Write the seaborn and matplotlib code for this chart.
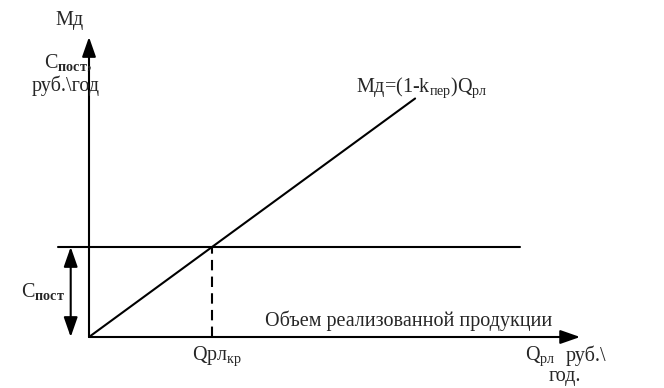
import matplotlib
matplotlib.use("Agg")
import matplotlib.pyplot as plt
import seaborn as sns

# --- data (abstract units) ---
c_post = 3.0              # fixed costs level
q_kr = 4.1                # break-even volume
md_q = [0.0, 4.1, 10.87]  # volume along the marginal income line
md_v = [0.0, 3.0, 7.95]   # marginal income values
cpost_x = [-1.03, 14.37]  # extent of the fixed-cost line
cpost_y = [3.0, 3.0]
x_axis_max = 16.37
y_axis_max = 10.0

sns.set_theme(style="white")
plt.rcParams['font.family'] = ['Liberation Serif', 'DejaVu Serif']
plt.rcParams['mathtext.fontset'] = 'custom'
plt.rcParams['mathtext.rm'] = 'Liberation Serif'
plt.rcParams['mathtext.it'] = 'Liberation Serif:italic'
plt.rcParams['mathtext.bf'] = 'Liberation Serif:bold'

fig = plt.figure(figsize=(6.64, 3.88), dpi=100)
ax = fig.add_axes([0, 0, 1, 1])
ax.set_xlim(-89/30, 575/30)
ax.set_ylim(-51/30, 337/30)
ax.axis('off')

lw = 1.5
col = 'black'
# marginal income line
sns.lineplot(x=md_q, y=md_v, ax=ax, color=col, lw=lw, estimator=None)
# fixed cost line
sns.lineplot(x=cpost_x, y=cpost_y, ax=ax, color=col, lw=lw, estimator=None)
# dashed vertical at break-even
ax.plot([q_kr, q_kr], [0, c_post], color=col, lw=lw, ls=(0, (5, 3)))

# axes with arrows
arrow = dict(arrowstyle='-|>,head_length=1.0,head_width=0.35', color=col, lw=lw,
             shrinkA=0, shrinkB=0)
ax.annotate('', xy=(0, y_axis_max), xytext=(0, 0), arrowprops=arrow)
ax.annotate('', xy=(x_axis_max, 0), xytext=(0, 0), arrowprops=arrow)
# double-headed arrow for C_post
darrow = dict(arrowstyle='<|-|>,head_length=1.0,head_width=0.35', color=col, lw=lw,
              shrinkA=0, shrinkB=0)
ax.annotate('', xy=(-0.61, c_post), xytext=(-0.61, 0), arrowprops=darrow)

fs = 14.5
def px(x, y):
    return ((x - 89) / 30, (337 - y) / 30)

ax.text(*px(69, 20), 'Мд', fontsize=fs, ha='center', va='center')
ax.text(*px(68, 63), r'С$_{\mathbf{пост}}$,', fontsize=fs, ha='center', va='center')
ax.text(*px(66, 86), 'руб.\\год', fontsize=fs, ha='center', va='center')
ax.text(*px(356, 88), r'Мд=(1-k$_{\mathrm{пер}}$)Q$_{\mathrm{рл}}$', fontsize=fs, ha='left', va='center')
ax.text(*px(43, 292), r'С$_{\mathbf{пост}}$', fontsize=fs, ha='center', va='center')
ax.text(*px(217, 356), r'Qрл$_{\mathrm{кр}}$', fontsize=fs, ha='center', va='center')
ax.text(*px(265, 321), 'Объем реализованной продукции', fontsize=fs, ha='left', va='center')
ax.text(*px(525, 356), r'Q$_{\mathrm{рл}}$', fontsize=fs, ha='left', va='center')
ax.text(*px(566, 356), 'руб.\\', fontsize=fs, ha='left', va='center')
ax.text(*px(565, 377), 'год.', fontsize=fs, ha='center', va='center')

fig.savefig('out.png', dpi=100)
